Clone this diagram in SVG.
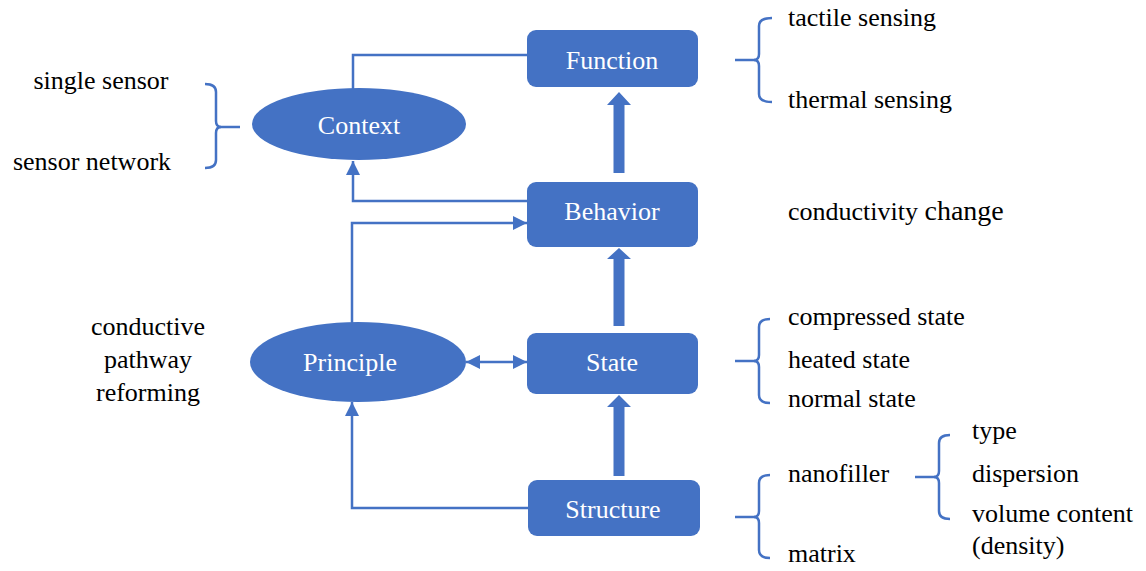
<svg xmlns="http://www.w3.org/2000/svg" width="1146" height="571" viewBox="0 0 1146 571" font-family="Liberation Serif, Times New Roman, serif">
<defs>
<marker id="ah" viewBox="0 0 10 10" markerWidth="14" markerHeight="14" refX="10" refY="5" orient="auto-start-reverse" markerUnits="userSpaceOnUse">
<path d="M0,0 L10,5 L0,10 z" fill="#4472C4"/>
</marker>
</defs>
<rect width="1146" height="571" fill="#fff"/>
<g id="connectors" fill="none" stroke="#4472C4" stroke-width="2.5">
<path d="M353,89 L353,55 L527,55"/>
<path d="M527,201 L353,201 L353,161" marker-end="url(#ah)"/>
<path d="M352,323 L352,223 L527,223" marker-end="url(#ah)"/>
<path d="M466,362 L527,362" marker-start="url(#ah)" marker-end="url(#ah)"/>
<path d="M528,508 L352,508 L352,402" marker-end="url(#ah)"/>
<g fill="#4472C4" stroke="none">
<path d="M619,92 L631,105 L624.5,105 L624.5,173 L613.5,173 L613.5,105 L607,105 z"/>
<path d="M619,248 L631,259 L624.5,259 L624.5,326 L613.5,326 L613.5,259 L607,259 z"/>
<path d="M619,395 L631,407 L624.5,407 L624.5,476 L613.5,476 L613.5,407 L607,407 z"/>
</g>
</g>
<g id="node-function">
<rect x="527" y="30" width="171" height="57" rx="9" fill="#4472C4"/>
<text x="612" y="69" font-size="26" fill="#fff" text-anchor="middle">Function</text>
</g>
<g id="node-behavior">
<rect x="527" y="182" width="171" height="65" rx="9" fill="#4472C4"/>
<text x="612" y="220" font-size="26" fill="#fff" text-anchor="middle">Behavior</text>
</g>
<g id="node-state">
<rect x="527" y="333" width="171" height="61" rx="9" fill="#4472C4"/>
<text x="612" y="371" font-size="26" fill="#fff" text-anchor="middle">State</text>
</g>
<g id="node-structure">
<rect x="528" y="480" width="172" height="56" rx="9" fill="#4472C4"/>
<text x="613" y="518" font-size="26" fill="#fff" text-anchor="middle">Structure</text>
</g>
<g id="node-context">
<ellipse cx="359" cy="124" rx="107" ry="36" fill="#4472C4"/>
<text x="359" y="134" font-size="26" fill="#fff" text-anchor="middle">Context</text>
</g>
<g id="node-principle">
<ellipse cx="358" cy="362" rx="108" ry="40" fill="#4472C4"/>
<text x="350" y="371" font-size="26" fill="#fff" text-anchor="middle">Principle</text>
</g>
<g id="braces" fill="none" stroke="#4472C4" stroke-width="2.5">
<path d="M205,84 Q216,84 216,92 L216,121 Q216,127 221,127 Q216,127 216,133 L216,160 Q216,168 205,168"/>
<path d="M219,127 L240,127"/>
<path d="M772,18 Q759,18 759,26 L759,54 Q759,60 754,60 Q759,60 759,66 L759,94 Q759,102 772,102"/>
<path d="M735,60 L756,60"/>
<path d="M770,319 Q759,319 759,327 L759,355 Q759,361 754,361 Q759,361 759,367 L759,395 Q759,403 770,403"/>
<path d="M735,361 L756,361"/>
<path d="M770,475 Q759,475 759,483 L759,511 Q759,517 754,517 Q759,517 759,523 L759,550 Q759,558 770,558"/>
<path d="M735,517 L756,517"/>
<path d="M950,435 Q939,435 939,443 L939,471 Q939,477 934,477 Q939,477 939,483 L939,511 Q939,519 950,519"/>
<path d="M915,477 L936,477"/>
</g>
<g id="labels" fill="#000" font-size="26">
<text x="101" y="89" text-anchor="middle">single sensor</text>
<text x="92" y="170" text-anchor="middle">sensor network</text>
<text x="788" y="26">tactile sensing</text>
<text x="788" y="108">thermal sensing</text>
<text x="788" y="220">conductivity <tspan font-size="28">change</tspan></text>
<text x="148" y="335" text-anchor="middle">conductive</text>
<text x="148" y="368" text-anchor="middle">pathway</text>
<text x="148" y="401" text-anchor="middle">reforming</text>
<text x="788" y="325">compressed state</text>
<text x="788" y="368">heated state</text>
<text x="788" y="407">normal state</text>
<text x="788" y="482">nanofiller</text>
<text x="788" y="562">matrix</text>
<text x="972" y="439">type</text>
<text x="972" y="482">dispersion</text>
<text x="972" y="522">volume content</text>
<text x="972" y="554">(density)</text>
</g>
</svg>
